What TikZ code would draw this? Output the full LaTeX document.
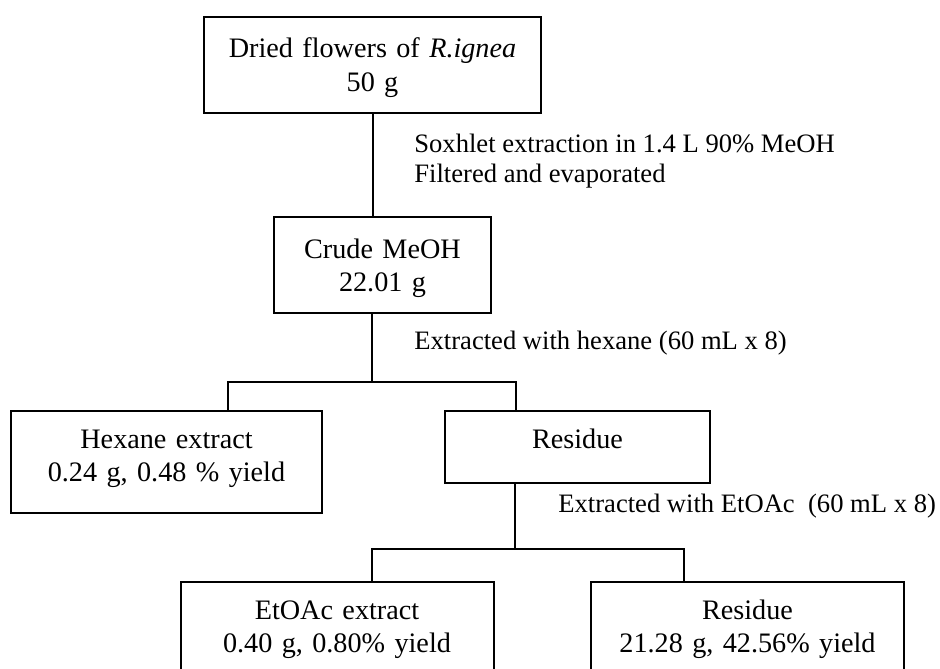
\documentclass[tikz,border=0pt]{standalone}
\usepackage{fontspec}
\setmainfont{Liberation Serif}
\usetikzlibrary{positioning}

\begin{document}
\begin{tikzpicture}[
    x=0.5pt, y=-0.5pt,
    box/.style={draw, line width=1pt, inner sep=0pt, align=center,
                font=\fontsize{14.1}{16.6}\selectfont,
                text width=#1, text height=18.5pt, text depth=32.5pt},
    tall/.style={text height=20.5pt, text depth=27.5pt},
    note/.style={anchor=base west, align=left, inner sep=0pt,
                 font=\fontsize{13.3}{15.3}\selectfont},
    link/.style={draw, line width=1pt}
  ]
  \path[use as bounding box, clip] (0,0) rectangle (940,668);

  \node[box=168.5pt, tall, anchor=north] (dried) at (372.5,16)
       {Dried flowers of \textit{R.ignea}\\50 g};
  \node[box=108.5pt, tall, below=51pt of dried, xshift=5pt] (crude)
       {Crude MeOH\\22.01 g};
  \node[box=155.5pt, below=48pt of crude, xshift=-108pt] (hexane)
       {Hexane extract\\0.24 g, 0.48 \% yield};
  \node[box=132.5pt, text depth=17.5pt, right=60.5pt of hexane.north east,
        anchor=north west] (residue) {Residue};
  \node[box=156.5pt, text depth=30pt, below=48.5pt of residue,
        xshift=-120.25pt] (etoac) {EtOAc extract\\0.40 g, 0.80\% yield};
  \node[box=156.5pt, text depth=30pt, right=47.75pt of etoac.north east,
        anchor=north west] (residue2) {Residue\\21.28 g, 42.56\% yield};

  % step notes (base = last line)
  \node[note] (soxhlet) at (414,183)
       {Soxhlet extraction in 1.4 L 90\% MeOH\\Filtered and evaporated};
  \node[note] (hexstep) at (414,349) {Extracted with hexane (60 mL x 8)};
  \node[note] (etstep) at (558,512) {Extracted with EtOAc\ \ (60 mL x 8)};

  % forks
  \coordinate (fork1) at (371.5,382);
  \coordinate (fork1l) at (228,382);
  \coordinate (fork1r) at (516,382);
  \coordinate (fork2) at (515,549);
  \coordinate (fork2l) at (372,549);
  \coordinate (fork2r) at (684,549);

  \path[link] (dried) -- (dried |- crude.north);
  \path[link] (crude.south -| fork1) -- (fork1);
  \path[link] (hexane.north -| fork1l) -- (fork1l) -- (fork1r)
              -- (residue.north -| fork1r);
  \path[link] (residue.south -| fork2) -- (fork2);
  \path[link] (etoac.north -| fork2l) -- (fork2l) -- (fork2r)
              -- (residue2.north -| fork2r);

\end{tikzpicture}
\end{document}
